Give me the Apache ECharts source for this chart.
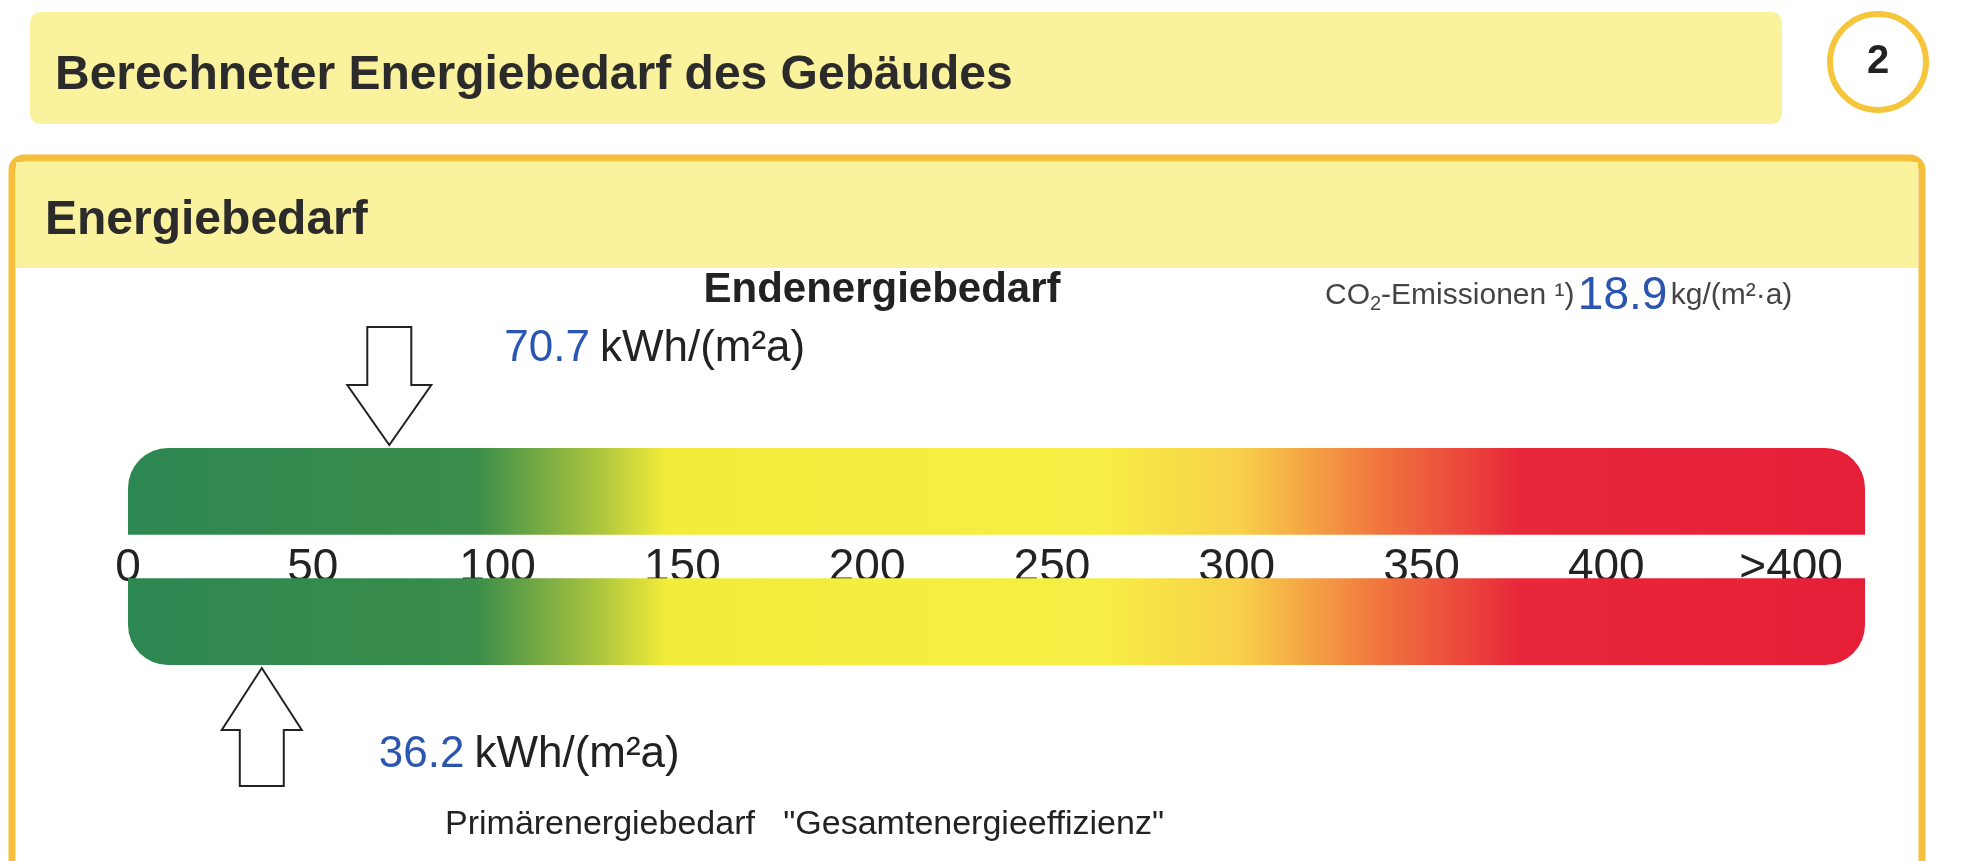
<!DOCTYPE html>
<html>
<head>
<meta charset="utf-8">
<script src="https://cdn.jsdelivr.net/npm/echarts@6/dist/echarts.min.js"></script>
<style>html,body{margin:0;padding:0;background:#fff}#chart{width:1967px;height:861px}</style>
</head>
<body>
<div id="chart"></div>
<script>
// scale values (kWh/(m²a))
var tickValues = [0, 50, 100, 150, 200, 250, 300, 350, 400, 450];
var tickLabels = ['0', '50', '100', '150', '200', '250', '300', '350', '400', '>400'];
var scaleMax = 470;
var endenergie = 70.7;     // arrow above
var primaerenergie = 36.2; // arrow below
var co2 = 18.9;

var chart = echarts.init(document.getElementById('chart'));
var font = 'Liberation Sans, Arial, sans-serif';

// colour stops of the scale band
var grad = [
  { offset: 0, color: '#2d8752' },
  { offset: 0.2, color: '#3a8d4a' },
  { offset: 0.27, color: '#a9c43e' },
  { offset: 0.31, color: '#f3ec3a' },
  { offset: 0.56, color: '#f7ee45' },
  { offset: 0.64, color: '#f8d04a' },
  { offset: 0.72, color: '#f0763e' },
  { offset: 0.8, color: '#e8283a' },
  { offset: 1, color: '#e61f38' }
];

function band(params, api) {
  var a = api.coord([0, api.value(1)]);
  var b = api.coord([scaleMax, api.value(2)]);
  var top = api.value(3) === 1;
  return {
    type: 'rect',
    shape: { x: a[0], y: b[1], width: b[0] - a[0], height: a[1] - b[1],
      r: top ? [40, 40, 0, 0] : [0, 0, 40, 40] },
    style: { fill: new echarts.graphic.LinearGradient(0, 0, 1, 0, grad) }
  };
}

function arrow(params, api) {
  var v = api.value(0);
  var down = api.value(1) === 1;
  var p = api.coord([v, down ? 1 : 0]);
  var x = p[0], y = p[1];
  var pts, label;
  if (down) {
    var t = y - 3;
    pts = [[x - 22, t - 118], [x + 22, t - 118], [x + 22, t - 60], [x + 42, t - 60], [x, t], [x - 42, t - 60], [x - 22, t - 60]];
    label = { x: x + 115, y: t - 118 };
  } else {
    var t2 = y + 3;
    pts = [[x - 22, t2 + 118], [x + 22, t2 + 118], [x + 22, t2 + 62], [x + 40, t2 + 62], [x, t2], [x - 40, t2 + 62], [x - 22, t2 + 62]];
    label = { x: x + 117, y: t2 + 65 };
  }
  return {
    type: 'group',
    children: [
      { type: 'polygon', shape: { points: pts }, style: { fill: '#fff', stroke: '#222', lineWidth: 2 } },
      { type: 'text', x: label.x, y: label.y, style: {
          text: '{n|' + api.value(2) + '}   {u|kWh/(m²a)}',
          rich: { n: { fill: '#2a55b0', fontSize: 44, fontFamily: font },
                  u: { fill: '#222', fontSize: 44, fontFamily: font } } } }
    ]
  };
}

chart.setOption({
  animation: false,
  graphic: [
    { type: 'rect', shape: { x: 30, y: 12, width: 1752, height: 112, r: 10 }, style: { fill: '#fbf29e' } },
    { type: 'text', x: 55, y: 76, style: { text: 'Berechneter Energiebedarf des Gebäudes', fontSize: 48, fontWeight: 'bold', fill: '#2b2b2b', verticalAlign: 'middle', fontFamily: font } },
    { type: 'circle', shape: { cx: 1878, cy: 62, r: 48 }, style: { fill: '#fff', stroke: '#f5c63c', lineWidth: 6 } },
    { type: 'text', x: 1878, y: 62, style: { text: '2', fontSize: 40, fontWeight: 'bold', fill: '#222', align: 'center', verticalAlign: 'middle', fontFamily: font } },
    { type: 'rect', shape: { x: 12, y: 158, width: 1910, height: 720, r: 12 }, style: { fill: '#fff', stroke: '#f5bf3c', lineWidth: 7 } },
    { type: 'rect', shape: { x: 16, y: 162, width: 1902, height: 106 }, style: { fill: '#fbf29e' } },
    { type: 'text', x: 45, y: 221, style: { text: 'Energiebedarf', fontSize: 48, fontWeight: 'bold', fill: '#2b2b2b', verticalAlign: 'middle', fontFamily: font } },
    { type: 'text', x: 882, y: 290, style: { text: 'Endenergiebedarf', fontSize: 42, fontWeight: 'bold', fill: '#222', align: 'center', verticalAlign: 'middle', fontFamily: font } },
    { type: 'text', x: 1325, y: 296, style: {
        text: '{g|CO}{s|2}{g|-Emissionen ¹)} {b|' + co2 + '} {g|kg/(m²·a)}',
        verticalAlign: 'middle',
        rich: { g: { fontSize: 30, fill: '#444', fontFamily: font },
                s: { fontSize: 20, fill: '#444', fontFamily: font, padding: [16, 0, 0, 0] },
                b: { fontSize: 46, fill: '#2a55b0', fontFamily: font } } } },
    { type: 'text', x: 445, y: 808, style: { text: 'Primärenergiebedarf   "Gesamtenergieeffizienz"', fontSize: 34, fill: '#222', fontFamily: font } }
  ],
  grid: { left: 128, right: 102, top: 448, bottom: 196 },
  xAxis: {
    type: 'value', min: 0, max: scaleMax, position: 'bottom', offset: -128,
    axisLine: { show: false }, axisTick: { show: false }, splitLine: { show: false },
    axisLabel: { customValues: tickValues, fontSize: 46, color: '#222', fontFamily: font,
      formatter: function (v) { return tickLabels[tickValues.indexOf(v)]; } }
  },
  yAxis: { type: 'value', min: 0, max: 1, show: false },
  series: [
    { type: 'custom', renderItem: band, data: [[0, 0.6, 1, 1], [0, 0, 0.4, 0]], silent: true },
    { type: 'custom', renderItem: arrow, data: [[endenergie, 1, endenergie], [primaerenergie, 0, primaerenergie]], silent: true, z: 5 }
  ]
});
</script>
</body>
</html>
